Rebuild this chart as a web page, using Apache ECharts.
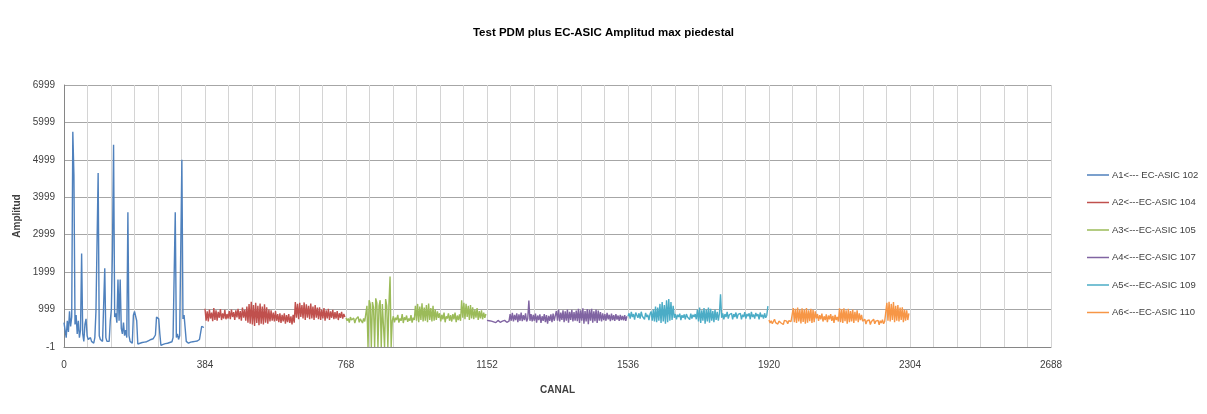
<!DOCTYPE html>
<html lang="es">
<head>
    <meta charset="UTF-8">
    <title>Test PDM plus EC-ASIC Amplitud max piedestal</title>
    <script src="https://cdn.jsdelivr.net/npm/echarts@6/dist/echarts.min.js"></script>
    <style>
        html, body { margin: 0; padding: 0; background: #fff; }
        #chart { width: 1207px; height: 414px; }
    </style>
</head>
<body>
    <div id="chart"></div>
    <script>
        // canal de inicio y paso entre muestras de cada ASIC
        var step = 3;
        var names = ['A1<--- EC-ASIC 102', 'A2<---EC-ASIC 104', 'A3<---EC-ASIC 105',
                     'A4<---EC-ASIC 107', 'A5<---EC-ASIC 109', 'A6<---EC-ASIC 110'];
        var starts = [0, 384, 768, 1152, 1536, 1920];
        var colors = ['#4F81BD', '#C0504D', '#9BBB59', '#8064A2', '#4BACC6', '#F79646'];
        var xTicks = [0, 384, 768, 1152, 1536, 1920, 2304, 2688];

        // amplitudes (una muestra cada 3 canales)
        var a1 = [650, 450, 250, 700, 400, 950, 550, 800, 5750, 4600,
                  600, 850, 350, 700, 250, 450, 2500, 350, 150, 600,
                  750, 300, 200, 150, 250, 150, 200, 100, 250, 950,
                  900, 4650, 300, 200, 250, 150, 200, 2100, 250, 150,
                  100, 150, 700, 1000, 2600, 5400, 800, 900, 650, 1800,
                  700, 1800, 500, 350, 650, 300, 450, 250, 3600, 300,
                  150, 200, 100, 850, 950, 900, 700, 80, 60, 100,
                  90, 120, 110, 130, 150, 140, 160, 170, 180, 200,
                  190, 220, 250, 320, 800, 820, 750, 350, 40, 80,
                  70, 100, 90, 110, 100, 130, 120, 150, 140, 250,
                  200, 3600, 250, 350, 200, 300, 250, 5000, 750, 850,
                  500, 150, 120, 100, 110, 130, 120, 140, 130, 150,
                  140, 160, 150, 200, 250, 550, 560, 520];
        var a2 = [1020, 700, 950, 680, 1000, 760, 920, 690, 1040, 720, 980, 700, 940, 780, 1010, 720, 900, 760, 990, 740,
                  880, 760, 960, 740, 1000, 800, 930, 720, 980, 790, 1020, 740, 960, 700, 1050, 780, 990, 700, 1080, 650,
                  1150, 620, 1210, 600, 1120, 560, 1180, 640, 1100, 580, 1160, 620, 1080, 600, 1140, 650, 1060, 620, 1000, 680, 980,
                  700, 920, 680, 960, 700, 880, 660, 900, 640, 860, 680, 900, 620, 850, 660, 880, 640, 820, 600, 860, 650,
                  1200, 780, 1150, 740, 1180, 800, 1120, 760, 1190, 720, 1140, 780, 1100, 740, 1160, 760, 1080, 720, 1120, 780, 1050,
                  740, 1060, 720, 1000, 760, 1040, 700, 980, 760, 1020, 720, 950, 780, 990, 740, 930, 760, 960, 720, 900, 780, 940, 760, 880, 800];
        var a3 = [780, 700, 760, 650, 800, 720, 690, 770, 640, 740, 700, 810, 660, 750, 700, 640, 760, 680, 720,
                  1100, 0, 1250, 1150, 0, 1200, 1050, 0, 1300, 1180, 0, 1100, 1250, 0, 1150, 1200, 0, 1280, 1100, 0, 1150, 1880, 0,
                  700, 820, 660, 780, 720, 860, 650, 760, 700, 880, 640, 790, 720, 840, 670, 760, 700, 850, 650, 780, 720,
                  1100, 700, 1150, 660, 1080, 720, 1170, 680, 1050, 700, 1120, 660, 1160, 720, 1040, 680, 1100, 700, 1000, 720, 950,
                  780, 900, 680, 860, 740, 920, 660, 820, 760, 900, 700, 850, 680, 880, 740, 920, 660, 840, 720, 870, 700,
                  1250, 780, 1180, 740, 1150, 800, 1100, 720, 1120, 760, 1060, 740, 1000, 780, 1040, 720, 960, 760, 980, 740, 920, 780, 880];
        var a4 = [710, 680, 700, 660, 690, 720, 670, 700, 650, 690, 710, 680, 660, 700, 690, 670, 710, 680, 660, 700, 690,
                  880, 700, 910, 680, 860, 720, 900, 660, 870, 700, 920, 690, 850, 720, 900, 680, 760, 1240, 700, 880, 680,
                  860, 700, 890, 650, 840, 720, 870, 640, 820, 700, 880, 660, 850, 620, 830, 700, 870, 660, 890, 700, 840,
                  960, 700, 1000, 680, 920, 720, 980, 660, 950, 700, 1000, 650, 940, 720, 990, 680, 930, 700, 970, 690,
                  1020, 640, 980, 700, 1030, 620, 960, 680, 1010, 610, 990, 700, 1020, 650, 950, 690, 1000, 640, 970, 700, 930, 680,
                  900, 720, 880, 700, 910, 740, 860, 690, 890, 720, 850, 700, 880, 730, 840, 700, 860, 720, 830, 710, 850, 700, 820];
        var a5 = [820, 900, 760, 940, 800, 880, 730, 920, 850, 780, 900, 760, 940, 820, 870, 740, 910, 800, 860, 720, 880,
                  950, 700, 1000, 680, 1080, 660, 1050, 700, 1150, 640, 1200, 680, 1120, 620, 1250, 660, 1280, 700, 1200, 720, 1100,
                  780, 880, 740, 860, 800, 890, 720, 850, 780, 870, 740, 880, 800, 850, 730, 890, 760, 860, 800, 880, 740,
                  1000, 680, 1050, 640, 980, 700, 1040, 620, 1000, 680, 1050, 650, 1020, 700, 960, 660, 1000, 720, 940, 700, 900, 1410,
                  780, 900, 740, 880, 800, 940, 760, 860, 820, 900, 740, 880, 800, 920, 760, 870, 820, 900, 740, 860,
                  800, 930, 760, 880, 820, 900, 740, 940, 800, 870, 760, 910, 820, 880, 740, 920, 800, 860, 760, 900, 780, 850, 1090];
        var a6 = [720, 640, 700, 620, 680, 740, 650, 700, 610, 690, 730, 640, 680, 600, 710, 660, 690, 620, 700, 650, 680, 640,
                  1040, 660, 1020, 640, 1050, 680, 990, 630, 1030, 670, 1000, 620, 1040, 650, 980, 690, 1020, 640, 990, 660, 950,
                  760, 880, 700, 850, 740, 890, 680, 820, 720, 870, 660, 840, 740, 880, 700, 830, 640, 860, 720, 800, 680,
                  1030, 660, 1010, 640, 1030, 690, 980, 620, 1020, 660, 960, 680, 1000, 640, 940, 700, 980, 660, 900, 720, 860,
                  690, 640, 740, 610, 700, 660, 720, 600, 680, 650, 740, 620, 690, 660, 710, 590, 700, 640, 730, 620, 680, 650,
                  1180, 700, 1210, 680, 1150, 720, 1200, 660, 1100, 700, 1120, 680, 1050, 720, 1060, 660, 1000, 700, 980, 720, 900];
        var amplitudes = [a1, a2, a3, a4, a5, a6];

        var font = '"Liberation Sans", Arial, sans-serif';

        var series = amplitudes.map(function (vals, k) {
            return {
                name: names[k],
                type: 'line',
                symbol: 'none',
                lineStyle: { width: 1.4, color: colors[k] },
                itemStyle: { color: colors[k] },
                data: vals.map(function (v, i) { return [starts[k] + i * step, v]; })
            };
        });

        var myChart = echarts.init(document.getElementById('chart'));
        myChart.setOption({
            animation: false,
            backgroundColor: '#fff',
            title: {
                text: 'Test PDM plus EC-ASIC Amplitud max piedestal',
                left: 'center',
                top: 22,
                textStyle: { fontFamily: font, fontSize: 11.5, fontWeight: 'bold', color: '#000' }
            },
            legend: {
                orient: 'vertical',
                left: 1082,
                top: 165,
                icon: 'rect',
                itemWidth: 22,
                itemHeight: 1.5,
                itemGap: 17.5,
                textStyle: { fontFamily: font, fontSize: 9.5, color: '#404040', padding: [0, 0, 0, -2] },
                data: names
            },
            grid: { left: 64, right: 156, top: 85, bottom: 67 },
            xAxis: {
                type: 'value',
                min: 0,
                max: 2688,
                interval: 64,
                name: 'CANAL',
                nameLocation: 'middle',
                nameGap: 38,
                nameTextStyle: { fontFamily: font, fontSize: 10, fontWeight: 'bold', color: '#404040' },
                axisLine: { lineStyle: { color: '#868686' } },
                axisTick: { show: false },
                axisLabel: {
                    fontFamily: font, fontSize: 10, color: '#404040', margin: 13,
                    formatter: function (v) { return xTicks.indexOf(v) >= 0 ? String(v) : ''; }
                },
                splitLine: { show: true, lineStyle: { color: '#d4d4d4', width: 1 } }
            },
            yAxis: {
                type: 'value',
                min: -1,
                max: 6999,
                interval: 1000,
                name: 'Amplitud',
                nameLocation: 'middle',
                nameGap: 40,
                nameTextStyle: { fontFamily: font, fontSize: 10, fontWeight: 'bold', color: '#404040' },
                axisLine: { show: true, lineStyle: { color: '#868686' } },
                axisTick: { show: false },
                axisLabel: {
                    fontFamily: font, fontSize: 10, color: '#404040', margin: 9,
                    formatter: function (v) { return String(v); }
                },
                splitLine: { lineStyle: { color: '#a6a6a6', width: 1 } }
            },
            series: series
        });
    </script>
</body>
</html>
